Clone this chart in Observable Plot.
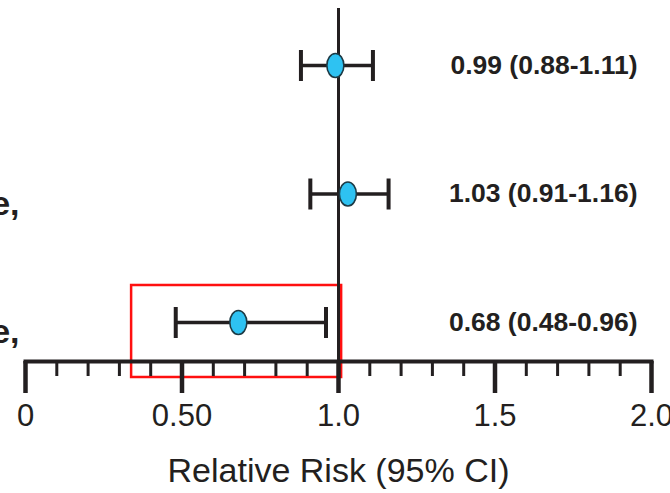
<!DOCTYPE html>
<html>
<head>
<meta charset="utf-8">
<script src="https://cdn.jsdelivr.net/npm/d3@7"></script>
<script src="https://cdn.jsdelivr.net/npm/@observablehq/plot@0.6"></script>
<style>
  html, body { margin: 0; padding: 0; background: #fff; }
  #chart svg { display: block; }
</style>
</head>
<body>
<div id="chart"></div>
<script>
// ---- data ----
const rowIndex   = [0, 1, 2];
const rrValues   = [0.99, 1.03, 0.68];
const lowerCI    = [0.88, 0.91, 0.48];
const upperCI    = [1.11, 1.16, 0.96];
const leftLabels = ["", "e,", "e,"];           // labels cut off at the left edge
const majorTicks = [0, 0.5, 1, 1.5, 2];
const tickLabels = ["0", "0.50", "1.0", "1.5", "2.0"];
const minorTicks = d3.range(0, 21).map(i => i / 10);
const axisTitle  = "Relative Risk (95% CI)";
const referenceValue = [1];
// highlight box (data units: x = relative risk, y = row index)
const highlightBox = [{x1: 0.339, x2: 1.010, y1: 1.712, y2: 2.428}];

const rows = rowIndex.map((r, i) => ({
  row: r, rr: rrValues[i], lo: lowerCI[i], hi: upperCI[i], left: leftLabels[i]
}));
const labelMap = new Map(majorTicks.map((t, i) => [t, tickLabels[i]]));

const ink = "#231f20";
const font = "'Liberation Sans', Arial, Helvetica, sans-serif";

const ellipseSymbol = {
  draw(ctx) {
    const rx = 8.5, ry = 12, k = 0.5523;
    ctx.moveTo(rx, 0);
    ctx.bezierCurveTo(rx, ry * k, rx * k, ry, 0, ry);
    ctx.bezierCurveTo(-rx * k, ry, -rx, ry * k, -rx, 0);
    ctx.bezierCurveTo(-rx, -ry * k, -rx * k, -ry, 0, -ry);
    ctx.bezierCurveTo(rx * k, -ry, rx, -ry * k, rx, 0);
    ctx.closePath();
  }
};
const capSymbol = {
  draw(ctx) {
    ctx.moveTo(0, -15.5);
    ctx.lineTo(0, 15.5);
  }
};

const chart = Plot.plot({
  width: 670,
  height: 493,
  marginLeft: 25,
  marginRight: 19,
  marginTop: 8,
  marginBottom: 132,
  style: {fontFamily: font, color: ink, background: "#fff", overflow: "visible"},
  x: {domain: [0, 2]},
  y: {domain: [-0.4436, 2.3035], reverse: true, axis: null},
  marks: [
    // highlight box
    Plot.rect(highlightBox, {x1: "x1", x2: "x2", y1: "y1", y2: "y2", fill: "none", stroke: "#ff1010", strokeWidth: 2.5}),
    // reference line at RR = 1
    Plot.ruleX(referenceValue, {stroke: ink, strokeWidth: 3}),
    // axis baseline
    Plot.frame({anchor: "bottom", stroke: ink, strokeWidth: 4}),
    // minor ticks
    Plot.axisX({ticks: minorTicks, tickSize: 15, strokeWidth: 3, stroke: ink, tickFormat: () => "", label: null}),
    // major ticks + labels
    Plot.axisX({ticks: majorTicks, tickSize: 32, strokeWidth: 4.5, stroke: ink, tickPadding: 10,
      fontSize: 31, fill: ink, tickFormat: d => labelMap.get(d), label: null}),
    // axis title
    Plot.text([axisTitle], {frameAnchor: "bottom", dy: 110, fontSize: 34, fill: ink, lineAnchor: "middle"}),
    // CI whiskers
    Plot.link(rows, {x1: "lo", x2: "hi", y1: "row", y2: "row", stroke: ink, strokeWidth: 3.5}),
    Plot.dot(rows, {x: "lo", y: "row", symbol: capSymbol, stroke: ink, strokeWidth: 4, fill: "none"}),
    Plot.dot(rows, {x: "hi", y: "row", symbol: capSymbol, stroke: ink, strokeWidth: 4, fill: "none"}),
    // point estimates
    Plot.dot(rows, {x: "rr", y: "row", symbol: ellipseSymbol, fill: "#2ec2f2", stroke: "#1d3a45", strokeWidth: 1.6}),
    // value labels
    Plot.text(rows, {y: "row", text: d => `${d.rr.toFixed(2)} (${d.lo.toFixed(2)}-${d.hi.toFixed(2)})`,
      frameAnchor: "right", textAnchor: "end", dx: -14, dy: 0, fontSize: 26.5, fontWeight: "bold", fill: ink}),
    // left labels (cut off)
    Plot.text(rows, {y: "row", text: "left", frameAnchor: "left", textAnchor: "end", dx: -6, dy: 10,
      fontSize: 34, fontWeight: "bold", fill: ink})
  ]
});
document.getElementById("chart").appendChild(chart);
</script>
</body>
</html>
